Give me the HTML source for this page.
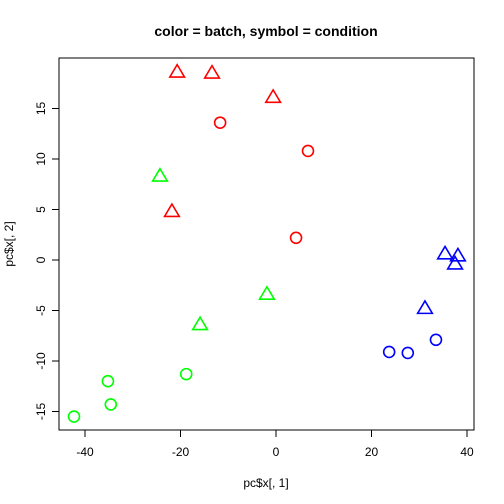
<!DOCTYPE html>
<html><head><meta charset="utf-8"><style>
html,body{margin:0;padding:0;background:#fff;}
svg{display:block;font-family:"Liberation Sans",Arial,sans-serif;}
</style></head><body>
<svg id="chart" width="504" height="504" viewBox="0 0 504 504">
<text x="266" y="36" text-anchor="middle" font-size="14" font-weight="bold">color = batch, symbol = condition</text>
<rect x="59" y="58" width="415" height="372" fill="none" stroke="#000" stroke-width="1"/>
<text x="266" y="487" text-anchor="middle" font-size="12">pc$x[, 1]</text>
<text x="0" y="0" transform="translate(13,244) rotate(-90)" text-anchor="middle" font-size="12">pc$x[, 2]</text>
<g id="axes"></g>
<g id="points"></g>
</svg>
<script>
const xTicks=[-40,-20,0,20,40];
const yTicks=[-15,-10,-5,0,5,10,15];
const xs=[-20.7,-13.4,-0.6,-21.8,-11.7,6.7,4.2,-24.3,-1.9,-15.9,-42.3,-35.2,-34.6,-18.8,35.4,38.1,37.5,31.2,23.7,27.6,33.5];
const ys=[18.7,18.6,16.2,4.9,13.6,10.8,2.2,8.4,-3.3,-6.3,-15.5,-12.0,-14.3,-11.3,0.7,0.5,-0.3,-4.7,-9.1,-9.2,-7.9];
const batch=["red","red","red","red","red","red","red","green","green","green","green","green","green","green","blue","blue","blue","blue","blue","blue","blue"];
const condition=["tri","tri","tri","tri","circ","circ","circ","tri","tri","tri","circ","circ","circ","circ","tri","tri","tri","tri","circ","circ","circ"];
const colors={red:"#ff0000",green:"#00ff00",blue:"#0000ff"};
const NS="http://www.w3.org/2000/svg";
function sx(v){return 276+v*4.775;}
function sy(v){return 260-v*10.1;}
const axes=document.getElementById('axes');
function mk(t,a,p){const e=document.createElementNS(NS,t);for(const k in a)e.setAttribute(k,a[k]);p.appendChild(e);return e;}
mk('line',{x1:sx(-40),x2:sx(40),y1:430,y2:430,stroke:'#000'},axes);
xTicks.forEach(v=>{
  const l=mk('line',{x1:sx(v),x2:sx(v),y1:430,y2:437,stroke:'#000'},axes);
  
  
  const t=mk('text',{x:sx(v),y:456,'text-anchor':'middle','font-size':12},axes);
  t.textContent=v;
  
  
});
mk('line',{x1:59,x2:59,y1:sy(-15),y2:sy(15),stroke:'#000'},axes);
yTicks.forEach(v=>{
  const l=mk('line',{x1:52,x2:59,y1:sy(v),y2:sy(v),stroke:'#000'},axes);
  
  
  const t=mk('text',{x:0,y:0,transform:`translate(45,${sy(v)}) rotate(-90)`,'text-anchor':'middle','font-size':12},axes);
  t.textContent=v;
  
  
});
const pts=document.getElementById('points');
xs.forEach((v,i)=>{
  const cx=sx(v),cy=sy(ys[i]),c=colors[batch[i]];
  let e;
  if(condition[i]==='circ'){
    e=mk('circle',{cx:cx,cy:cy,r:5.5,fill:'none',stroke:c,'stroke-width':1.6},pts);
  }else{
    const r=8, cy2=cy+1.5;
    const p=[[cx,cy2-r],[cx-r*0.92,cy2+r*0.55],[cx+r*0.92,cy2+r*0.55]].map(a=>a.join(',')).join(' ');
    e=mk('polygon',{points:p,fill:'none',stroke:c,'stroke-width':1.6},pts);
  }
  
  
});
</script>
</body></html>
